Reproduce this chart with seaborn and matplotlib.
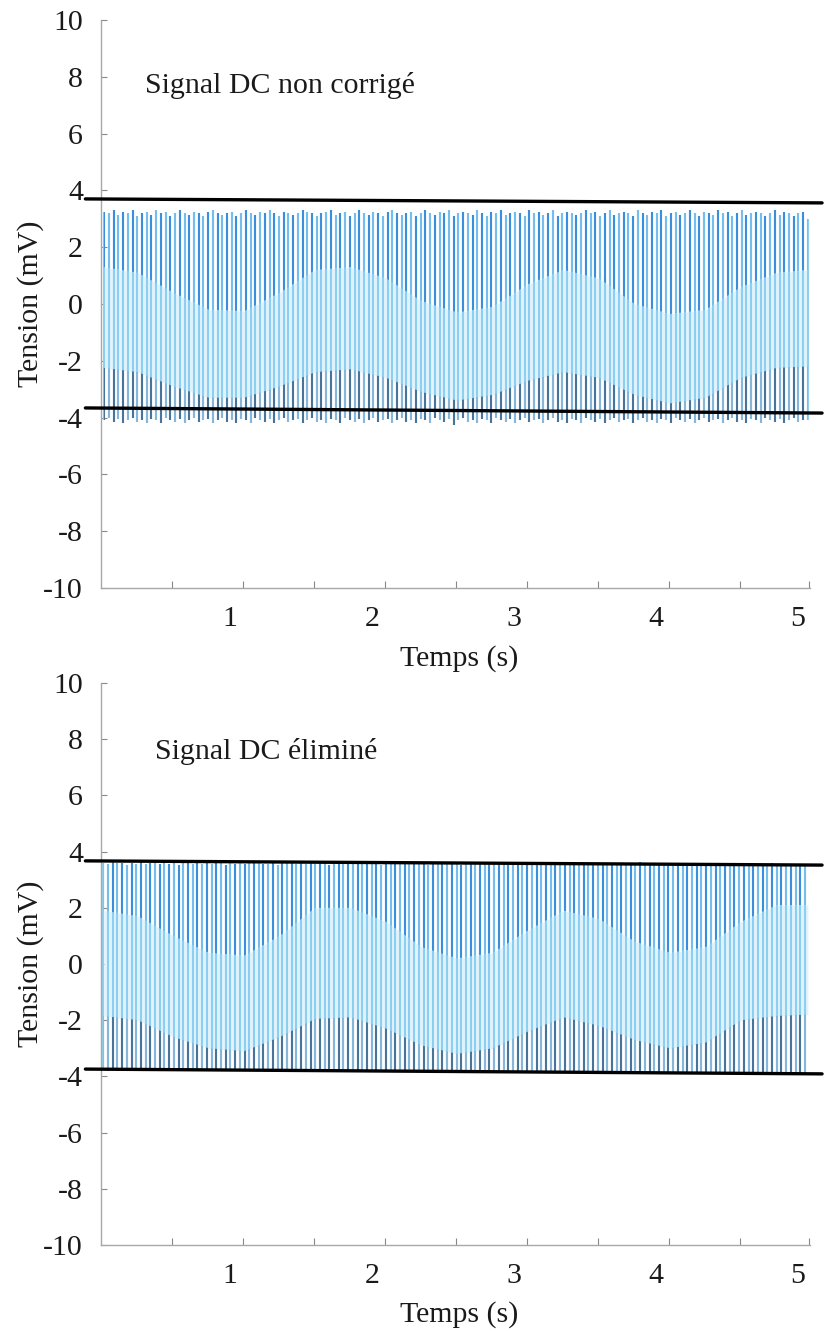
import numpy as np
import matplotlib
matplotlib.use("Agg")
import matplotlib.pyplot as plt
from matplotlib.patches import Polygon
import seaborn as sns

# ---------------- data ----------------
TITLES = ["Signal DC non corrigé", "Signal DC éliminé"]
X_LABEL = "Temps (s)"
Y_LABEL = "Tension (mV)"
X_TICKS = [1, 2, 3, 4, 5]
Y_TICKS = [-10, -8, -6, -4, -2, 0, 2, 4, 6, 8, 10]

# time span of the sampled trace (s)
P1_T_SPAN = [0.113, 5.07]
P2_T_SPAN = [0.106, 5.05]

# per-stroke maxima / minima of the trace (mV)
P1_TOP = [
    3.25, 3.2, 3.3, 3.15, 3.25, 3.2, 3.3, 3.1, 3.2, 3.25,
    3.15, 3.3, 3.2, 3.25, 3.1, 3.2, 3.3, 3.2, 3.15, 3.25,
    3.2, 3.1, 3.25, 3.3, 3.2, 3.15, 3.2, 3.25, 3.1, 3.2,
    3.3, 3.2, 3.15, 3.25, 3.2, 3.3, 3.2, 3.1, 3.25, 3.2,
    3.15, 3.2, 3.3, 3.25, 3.2, 3.1, 3.2, 3.25, 3.3, 3.15,
    3.2, 3.25, 3.1, 3.2, 3.3, 3.2, 3.15, 3.25, 3.2, 3.1,
    3.25, 3.3, 3.2, 3.15, 3.2, 3.25, 3.1, 3.2, 3.3, 3.2,
    3.15, 3.25, 3.2, 3.3, 3.1, 3.2, 3.25, 3.2, 3.15, 3.3,
    3.2, 3.1, 3.25, 3.2, 3.3, 3.15, 3.2, 3.25, 3.2, 3.1,
    3.3, 3.2, 3.25, 3.15, 3.2, 3.3, 3.1, 3.2, 3.25, 3.2,
    3.15, 3.2, 3.3, 3.2, 3.25, 3.1, 3.2, 3.3, 3.15, 3.2,
    3.25, 3.2, 3.1, 3.3, 3.2, 3.15, 3.25, 3.2, 3.3, 3.1,
    3.2, 3.25, 3.15, 3.2, 3.3, 3.2, 3.1, 3.25, 3.2, 3.15,
    3.3, 3.2, 3.25, 3.1, 3.2, 3.3, 3.15, 3.2, 3.25, 3.2,
    3.1, 3.2, 3.3, 3.15, 3.25, 3.2, 3.1, 3.2, 3.25, 3.0]
P1_BOT = [
    -4.1, -4.0, -4.15, -4.05, -4.2, -4.1, -4.0, -4.15, -4.1, -4.2,
    -4.05, -4.1, -4.2, -4.0, -4.1, -4.15, -4.05, -4.2, -4.1, -4.0,
    -4.15, -4.1, -4.05, -4.2, -4.1, -4.0, -4.15, -4.1, -4.2, -4.05,
    -4.1, -4.2, -4.0, -4.1, -4.15, -4.05, -4.2, -4.1, -4.0, -4.15,
    -4.1, -4.05, -4.2, -4.1, -4.0, -4.15, -4.1, -4.2, -4.05, -4.1,
    -4.2, -4.0, -4.1, -4.15, -4.05, -4.2, -4.1, -4.0, -4.15, -4.1,
    -4.05, -4.2, -4.1, -4.0, -4.15, -4.1, -4.2, -4.05, -4.1, -4.2,
    -4.0, -4.1, -4.15, -4.05, -4.25, -4.1, -4.0, -4.15, -4.1, -4.2,
    -4.05, -4.1, -4.2, -4.0, -4.1, -4.15, -4.05, -4.2, -4.1, -4.0,
    -4.15, -4.1, -4.05, -4.2, -4.1, -4.0, -4.15, -4.1, -4.2, -4.05,
    -4.1, -4.2, -4.0, -4.1, -4.15, -4.05, -4.2, -4.1, -4.0, -4.15,
    -4.1, -4.05, -4.2, -4.1, -4.0, -4.15, -4.1, -4.2, -4.05, -4.1,
    -4.2, -4.0, -4.1, -4.15, -4.05, -4.2, -4.1, -4.0, -4.15, -4.1,
    -4.05, -4.2, -4.1, -4.0, -4.15, -4.1, -4.2, -4.05, -4.1, -4.2,
    -4.0, -4.1, -4.15, -4.05, -4.2, -4.1, -4.0, -4.15, -4.1, -4.1]
P2_TOP = [
    3.6, 3.55, 3.62, 3.58, 3.6, 3.52, 3.6, 3.57, 3.62, 3.55,
    3.58, 3.6, 3.55, 3.62, 3.57, 3.6, 3.52, 3.6, 3.58, 3.55,
    3.62, 3.57, 3.6, 3.55, 3.58, 3.6, 3.52, 3.62, 3.57, 3.6,
    3.55, 3.6, 3.58, 3.62, 3.55, 3.57, 3.6, 3.52, 3.6, 3.58,
    3.62, 3.55, 3.6, 3.57, 3.6, 3.55, 3.58, 3.62, 3.52, 3.6,
    3.57, 3.6, 3.55, 3.58, 3.62, 3.6, 3.55, 3.57, 3.6, 3.52,
    3.6, 3.58, 3.55, 3.62, 3.57, 3.6, 3.55, 3.58, 3.6, 3.52,
    3.62, 3.57, 3.6, 3.55, 3.58, 3.6, 3.52, 3.6, 3.57, 3.55,
    3.6, 3.58, 3.62, 3.55, 3.57, 3.6, 3.52, 3.6, 3.58, 3.55,
    3.62, 3.57, 3.6, 3.55, 3.58, 3.6, 3.55, 3.57, 3.6, 3.52,
    3.58, 3.6, 3.55, 3.62, 3.57, 3.6, 3.52, 3.58, 3.6, 3.55,
    3.57, 3.6, 3.55, 3.58, 3.62, 3.55, 3.6, 3.52, 3.57, 3.6,
    3.55, 3.58, 3.6, 3.52, 3.57, 3.6, 3.55, 3.58, 3.6, 3.55,
    3.57, 3.6, 3.52, 3.58, 3.55, 3.6, 3.57, 3.55, 3.58, 3.55,
    3.52, 3.55, 3.58, 3.52, 3.55, 3.5, 3.55, 3.52, 3.5, 3.52]
P2_BOT = [
    -3.75, -3.8, -3.72, -3.78, -3.8, -3.75, -3.82, -3.78, -3.75, -3.8,
    -3.78, -3.75, -3.82, -3.8, -3.76, -3.8, -3.78, -3.82, -3.75, -3.8,
    -3.78, -3.82, -3.76, -3.8, -3.78, -3.75, -3.82, -3.8, -3.78, -3.8,
    -3.82, -3.78, -3.8, -3.76, -3.82, -3.8, -3.78, -3.8, -3.82, -3.78,
    -3.8, -3.82, -3.78, -3.8, -3.82, -3.8, -3.78, -3.82, -3.8, -3.82,
    -3.78, -3.82, -3.8, -3.84, -3.8, -3.82, -3.8, -3.84, -3.82, -3.8,
    -3.84, -3.82, -3.8, -3.84, -3.82, -3.84, -3.8, -3.82, -3.84, -3.82,
    -3.84, -3.86, -3.82, -3.84, -3.86, -3.84, -3.82, -3.86, -3.84, -3.86,
    -3.84, -3.86, -3.84, -3.82, -3.86, -3.84, -3.86, -3.88, -3.84, -3.86,
    -3.86, -3.84, -3.88, -3.86, -3.84, -3.88, -3.86, -3.88, -3.86, -3.88,
    -3.86, -3.88, -3.86, -3.9, -3.88, -3.86, -3.88, -3.9, -3.88, -3.86,
    -3.88, -3.9, -3.88, -3.9, -3.88, -3.9, -3.88, -3.9, -3.92, -3.88,
    -3.9, -3.88, -3.9, -3.92, -3.9, -3.88, -3.9, -3.92, -3.9, -3.9,
    -3.92, -3.9, -3.88, -3.92, -3.9, -3.92, -3.9, -3.88, -3.92, -3.9,
    -3.9, -3.92, -3.9, -3.92, -3.9, -3.88, -3.92, -3.9, -3.9, -3.9]

# envelope of the dense top / bottom bands (mV), sampled every 0.25 s
ENV_T = [0.11, 0.35, 0.60, 0.85, 1.10, 1.35, 1.60, 1.85, 2.10, 2.35, 2.60,
         2.85, 3.10, 3.35, 3.60, 3.85, 4.10, 4.35, 4.60, 4.85, 5.07]
P1_ENV_UP = [1.3, 1.1, 0.4, -0.2, -0.25, 0.4, 1.2, 1.3, 0.9, 0.1, -0.3,
             -0.1, 0.7, 1.2, 0.9, 0.0, -0.35, -0.2, 0.6, 1.1, 1.2]
P1_ENV_LO = [-2.25, -2.4, -2.9, -3.3, -3.3, -2.9, -2.4, -2.3, -2.6, -3.1, -3.4,
             -3.2, -2.7, -2.4, -2.6, -3.2, -3.5, -3.3, -2.6, -2.25, -2.2]
P2_ENV_UP = [1.9, 1.7, 1.0, 0.4, 0.3, 1.0, 2.0, 2.0, 1.5, 0.6, 0.2,
             0.4, 1.2, 1.9, 1.6, 0.8, 0.4, 0.6, 1.5, 2.1, 2.1]
P2_ENV_LO = [-1.85, -2.0, -2.6, -3.0, -3.1, -2.6, -1.95, -1.9, -2.3, -2.9, -3.2,
             -3.0, -2.4, -1.9, -2.2, -2.7, -3.0, -2.8, -2.0, -1.85, -1.8]

# black reference (peak) lines: [x_start, x_end], [y_start, y_end]
REF_X = [-0.02, 5.17]
P1_REF_HIGH = [3.70, 3.56]
P1_REF_LOW = [-3.66, -3.84]
P2_REF_HIGH = [3.67, 3.52]
P2_REF_LOW = [-3.74, -3.91]

# ---------------- style ----------------
sns.set_theme(style="white")
plt.rcParams["font.family"] = ["Liberation Serif", "DejaVu Serif"]
FS = 21.5
LIGHT = "#8ccff2"
PALE = "#e1f3fb"
TOP_PAIR = ["#3a8edb", "#74bdec"]
BOT_PAIR = ["#4a7399", "#86b6da"]
AX_COL = "#a8a8a8"

fig = plt.figure(figsize=(8.31, 13.31), dpi=100)
ax1 = fig.add_axes([101 / 831, 1 - 588 / 1331, 709 / 831, 568 / 1331])
ax2 = fig.add_axes([101 / 831, 1 - 1245 / 1331, 709 / 831, 562 / 1331])


def alternate(pair, n):
    return [pair[i % 2] for i in range(n)]


def draw_panel(ax, title, title_xy, span, tops, bots, env_up, env_lo, ref_hi, ref_lo):
    n = len(tops)
    t = np.linspace(span[0], span[1], n)
    ax.fill_between(ENV_T, env_lo, env_up, color=PALE, lw=0, zorder=1)
    ax.vlines(t, bots, tops, colors=LIGHT, lw=1.5, zorder=2)
    up_clip = Polygon(list(zip(ENV_T, env_up)) + [(ENV_T[-1], 6), (ENV_T[0], 6)],
                      closed=True, transform=ax.transData)
    lo_clip = Polygon(list(zip(ENV_T, env_lo)) + [(ENV_T[-1], -6), (ENV_T[0], -6)],
                      closed=True, transform=ax.transData)
    dark_up = ax.vlines(t, bots, tops, colors=alternate(TOP_PAIR, n), lw=1.5, zorder=3)
    dark_up.set_clip_path(up_clip)
    dark_lo = ax.vlines(t, bots, tops, colors=alternate(BOT_PAIR, n), lw=1.5, zorder=3)
    dark_lo.set_clip_path(lo_clip)

    for ref in (ref_hi, ref_lo):
        sns.lineplot(x=REF_X, y=ref, ax=ax, color="black", lw=2.4,
                     clip_on=False, zorder=5, legend=False)

    ax.text(title_xy[0], title_xy[1], title, fontsize=FS, ha="left", va="center",
            color="#1a1a1a")

    ax.set_xlim(0.09, 5.085)
    ax.set_ylim(-10, 10)
    ax.set_yticks(Y_TICKS)
    ax.set_yticklabels([str(v) for v in Y_TICKS])
    ax.set_xticks(X_TICKS)
    ax.set_xticklabels([str(v) for v in X_TICKS])
    ax.set_xticks([0.59, 1.09, 1.59, 2.09, 2.59, 3.09, 3.59, 4.09, 4.59, 5.08], minor=True)
    ax.tick_params(axis="x", which="major", length=0, pad=13, labelsize=FS, labelcolor="#1a1a1a")
    ax.tick_params(axis="x", which="minor", direction="in", length=5, width=0.8,
                   color="#888888", bottom=True)
    ax.tick_params(axis="y", direction="in", length=4, width=0.8, color="#888888",
                   pad=13, labelsize=FS, labelcolor="#1a1a1a", left=True)
    for s in ("top", "right"):
        ax.spines[s].set_visible(False)
    for s in ("left", "bottom"):
        ax.spines[s].set_color(AX_COL)
        ax.spines[s].set_linewidth(1.0)
    ax.set_xlabel(X_LABEL, fontsize=FS, color="#1a1a1a")
    ax.set_ylabel(Y_LABEL, fontsize=FS, color="#1a1a1a")
    ax.xaxis.set_label_coords(0.505, -0.1)
    ax.yaxis.set_label_coords(-0.08, 0.5)
    ax.grid(False)


draw_panel(ax1, TITLES[0], (0.40, 7.68), P1_T_SPAN, P1_TOP, P1_BOT,
           P1_ENV_UP, P1_ENV_LO, P1_REF_HIGH, P1_REF_LOW)
draw_panel(ax2, TITLES[1], (0.47, 7.58), P2_T_SPAN, P2_TOP, P2_BOT,
           P2_ENV_UP, P2_ENV_LO, P2_REF_HIGH, P2_REF_LOW)

fig.savefig("out.png", dpi=100)
